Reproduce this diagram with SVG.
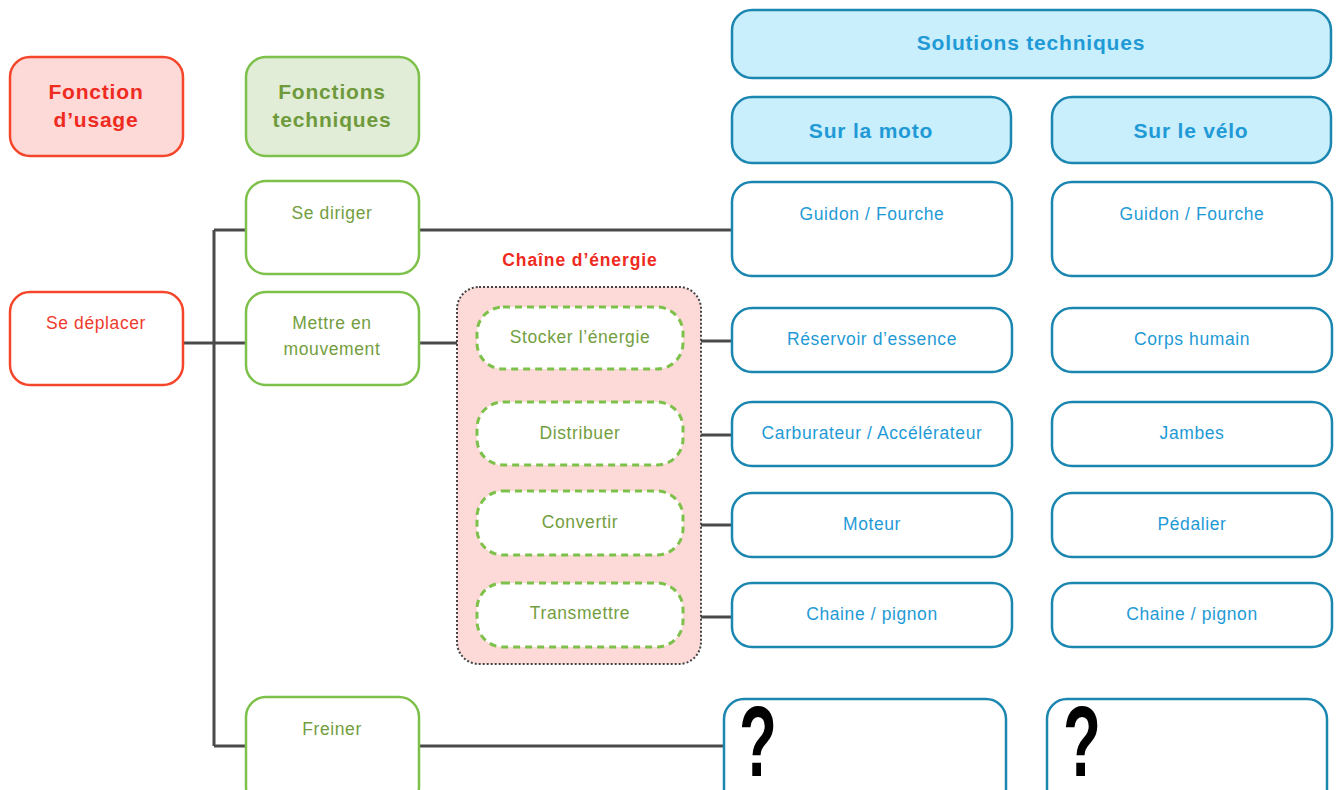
<svg xmlns="http://www.w3.org/2000/svg" width="1337" height="790" viewBox="0 0 1337 790">
<style>
text{font-family:"Liberation Sans",Arial,sans-serif;text-anchor:middle}
.red{fill:#fff;stroke:#f5462c;stroke-width:2.5}
.redh{fill:#fdd9d8;stroke:#f5462c;stroke-width:2.5}
.grn{fill:#fff;stroke:#7dc14a;stroke-width:2.5}
.grnh{fill:#e1edd6;stroke:#7dc14a;stroke-width:2.5}
.gdash{fill:#fff;stroke:#7dc14a;stroke-width:3;stroke-dasharray:7 5}
.blu{fill:#fff;stroke:#1b87b0;stroke-width:2.5}
.bluh{fill:#c9eefc;stroke:#1b87b0;stroke-width:2.5}
.tr{fill:#ef3b2c;font-size:17.5px;letter-spacing:0.6px}
.tg{fill:#739e40;font-size:17.5px;letter-spacing:0.6px}
.tb{fill:#1f9ad6;font-size:17.5px;letter-spacing:0.6px}
.hr{fill:#ef2a1e;font-size:21px;font-weight:bold;letter-spacing:0.8px}
.hg{fill:#6f9a3c;font-size:21px;font-weight:bold;letter-spacing:0.8px}
.hb{fill:#1f9ad6;font-size:21px;font-weight:bold;letter-spacing:0.8px}
.ch{fill:#ef2a1e;font-size:17.5px;font-weight:bold;letter-spacing:0.9px}
.q{fill:#000;font-size:100px;font-weight:bold;text-anchor:start}
#connectors path{fill:none;stroke:#4a4a4a;stroke-width:3}
</style>
<g id="connectors">
<path d="M183 343H214M214 230V746M214 230H246M214 343H246M214 746H246"/>
<path d="M419 230H732"/>
<path d="M419 343H477"/>
<path d="M683 341H732M683 435H732M683 525H732M683 617H732"/>
<path d="M419 746H724"/>
<path d="M580 369V402M580 465V491M580 555V583"/>
</g>
<g id="chain">
<rect x="457" y="287" width="244" height="377" rx="22" fill="#fdd9d8" stroke="#444" stroke-width="2" stroke-dasharray="2 2"/>
<text x="580" y="266" class="ch">Chaîne d’énergie</text>
</g>
<g id="h-usage"><rect x="10" y="57" width="173" height="99" rx="20" class="redh"/><text x="96" y="99" class="hr">Fonction</text><text x="96" y="127" class="hr">d’usage</text></g>
<g id="h-tech"><rect x="246" y="57" width="173" height="99" rx="20" class="grnh"/><text x="332" y="99" class="hg">Fonctions</text><text x="332" y="127" class="hg">techniques</text></g>
<g id="h-sol"><rect x="732" y="10" width="599" height="68" rx="20" class="bluh"/><text x="1031" y="50" class="hb">Solutions techniques</text></g>
<g id="h-moto"><rect x="732" y="97" width="279" height="66" rx="20" class="bluh"/><text x="871" y="138" class="hb">Sur la moto</text></g>
<g id="h-velo"><rect x="1052" y="97" width="279" height="66" rx="20" class="bluh"/><text x="1191" y="138" class="hb">Sur le vélo</text></g>
<g id="se-deplacer"><rect x="10" y="292" width="173" height="93" rx="20" class="red"/><text x="96" y="329" class="tr">Se déplacer</text></g>
<g id="se-diriger"><rect x="246" y="181" width="173" height="93" rx="20" class="grn"/><text x="332" y="219" class="tg">Se diriger</text></g>
<g id="mettre"><rect x="246" y="292" width="173" height="93" rx="20" class="grn"/><text x="332" y="329" class="tg">Mettre en</text><text x="332" y="355" class="tg">mouvement</text></g>
<g id="freiner"><rect x="246" y="697" width="173" height="110" rx="20" class="grn"/><text x="332" y="735" class="tg">Freiner</text></g>
<g id="stocker"><rect x="477" y="307" width="206" height="62" rx="26" class="gdash"/><text x="580" y="343" class="tg">Stocker l’énergie</text></g>
<g id="distribuer"><rect x="477" y="402" width="206" height="63" rx="26" class="gdash"/><text x="580" y="439" class="tg">Distribuer</text></g>
<g id="convertir"><rect x="477" y="491" width="206" height="64" rx="26" class="gdash"/><text x="580" y="528" class="tg">Convertir</text></g>
<g id="transmettre"><rect x="477" y="583" width="206" height="64" rx="26" class="gdash"/><text x="580" y="619" class="tg">Transmettre</text></g>
<g id="m-guidon"><rect x="732" y="182" width="280" height="94" rx="20" class="blu"/><text x="872" y="220" class="tb">Guidon / Fourche</text></g>
<g id="m-reservoir"><rect x="732" y="308" width="280" height="64" rx="20" class="blu"/><text x="872" y="345" class="tb">Réservoir d’essence</text></g>
<g id="m-carbu"><rect x="732" y="402" width="280" height="64" rx="20" class="blu"/><text x="872" y="439" class="tb">Carburateur / Accélérateur</text></g>
<g id="m-moteur"><rect x="732" y="493" width="280" height="64" rx="20" class="blu"/><text x="872" y="530" class="tb">Moteur</text></g>
<g id="m-chaine"><rect x="732" y="583" width="280" height="64" rx="20" class="blu"/><text x="872" y="620" class="tb">Chaine / pignon</text></g>
<g id="m-q"><rect x="724" y="699" width="282" height="110" rx="20" class="blu"/><text x="0" y="0" class="q" transform="translate(739 776) scale(0.62 1)">?</text></g>
<g id="v-guidon"><rect x="1052" y="182" width="280" height="94" rx="20" class="blu"/><text x="1192" y="220" class="tb">Guidon / Fourche</text></g>
<g id="v-corps"><rect x="1052" y="308" width="280" height="64" rx="20" class="blu"/><text x="1192" y="345" class="tb">Corps humain</text></g>
<g id="v-jambes"><rect x="1052" y="402" width="280" height="64" rx="20" class="blu"/><text x="1192" y="439" class="tb">Jambes</text></g>
<g id="v-pedalier"><rect x="1052" y="493" width="280" height="64" rx="20" class="blu"/><text x="1192" y="530" class="tb">Pédalier</text></g>
<g id="v-chaine"><rect x="1052" y="583" width="280" height="64" rx="20" class="blu"/><text x="1192" y="620" class="tb">Chaine / pignon</text></g>
<g id="v-q"><rect x="1047" y="699" width="280" height="110" rx="20" class="blu"/><text x="0" y="0" class="q" transform="translate(1063 776) scale(0.62 1)">?</text></g>
</svg>
